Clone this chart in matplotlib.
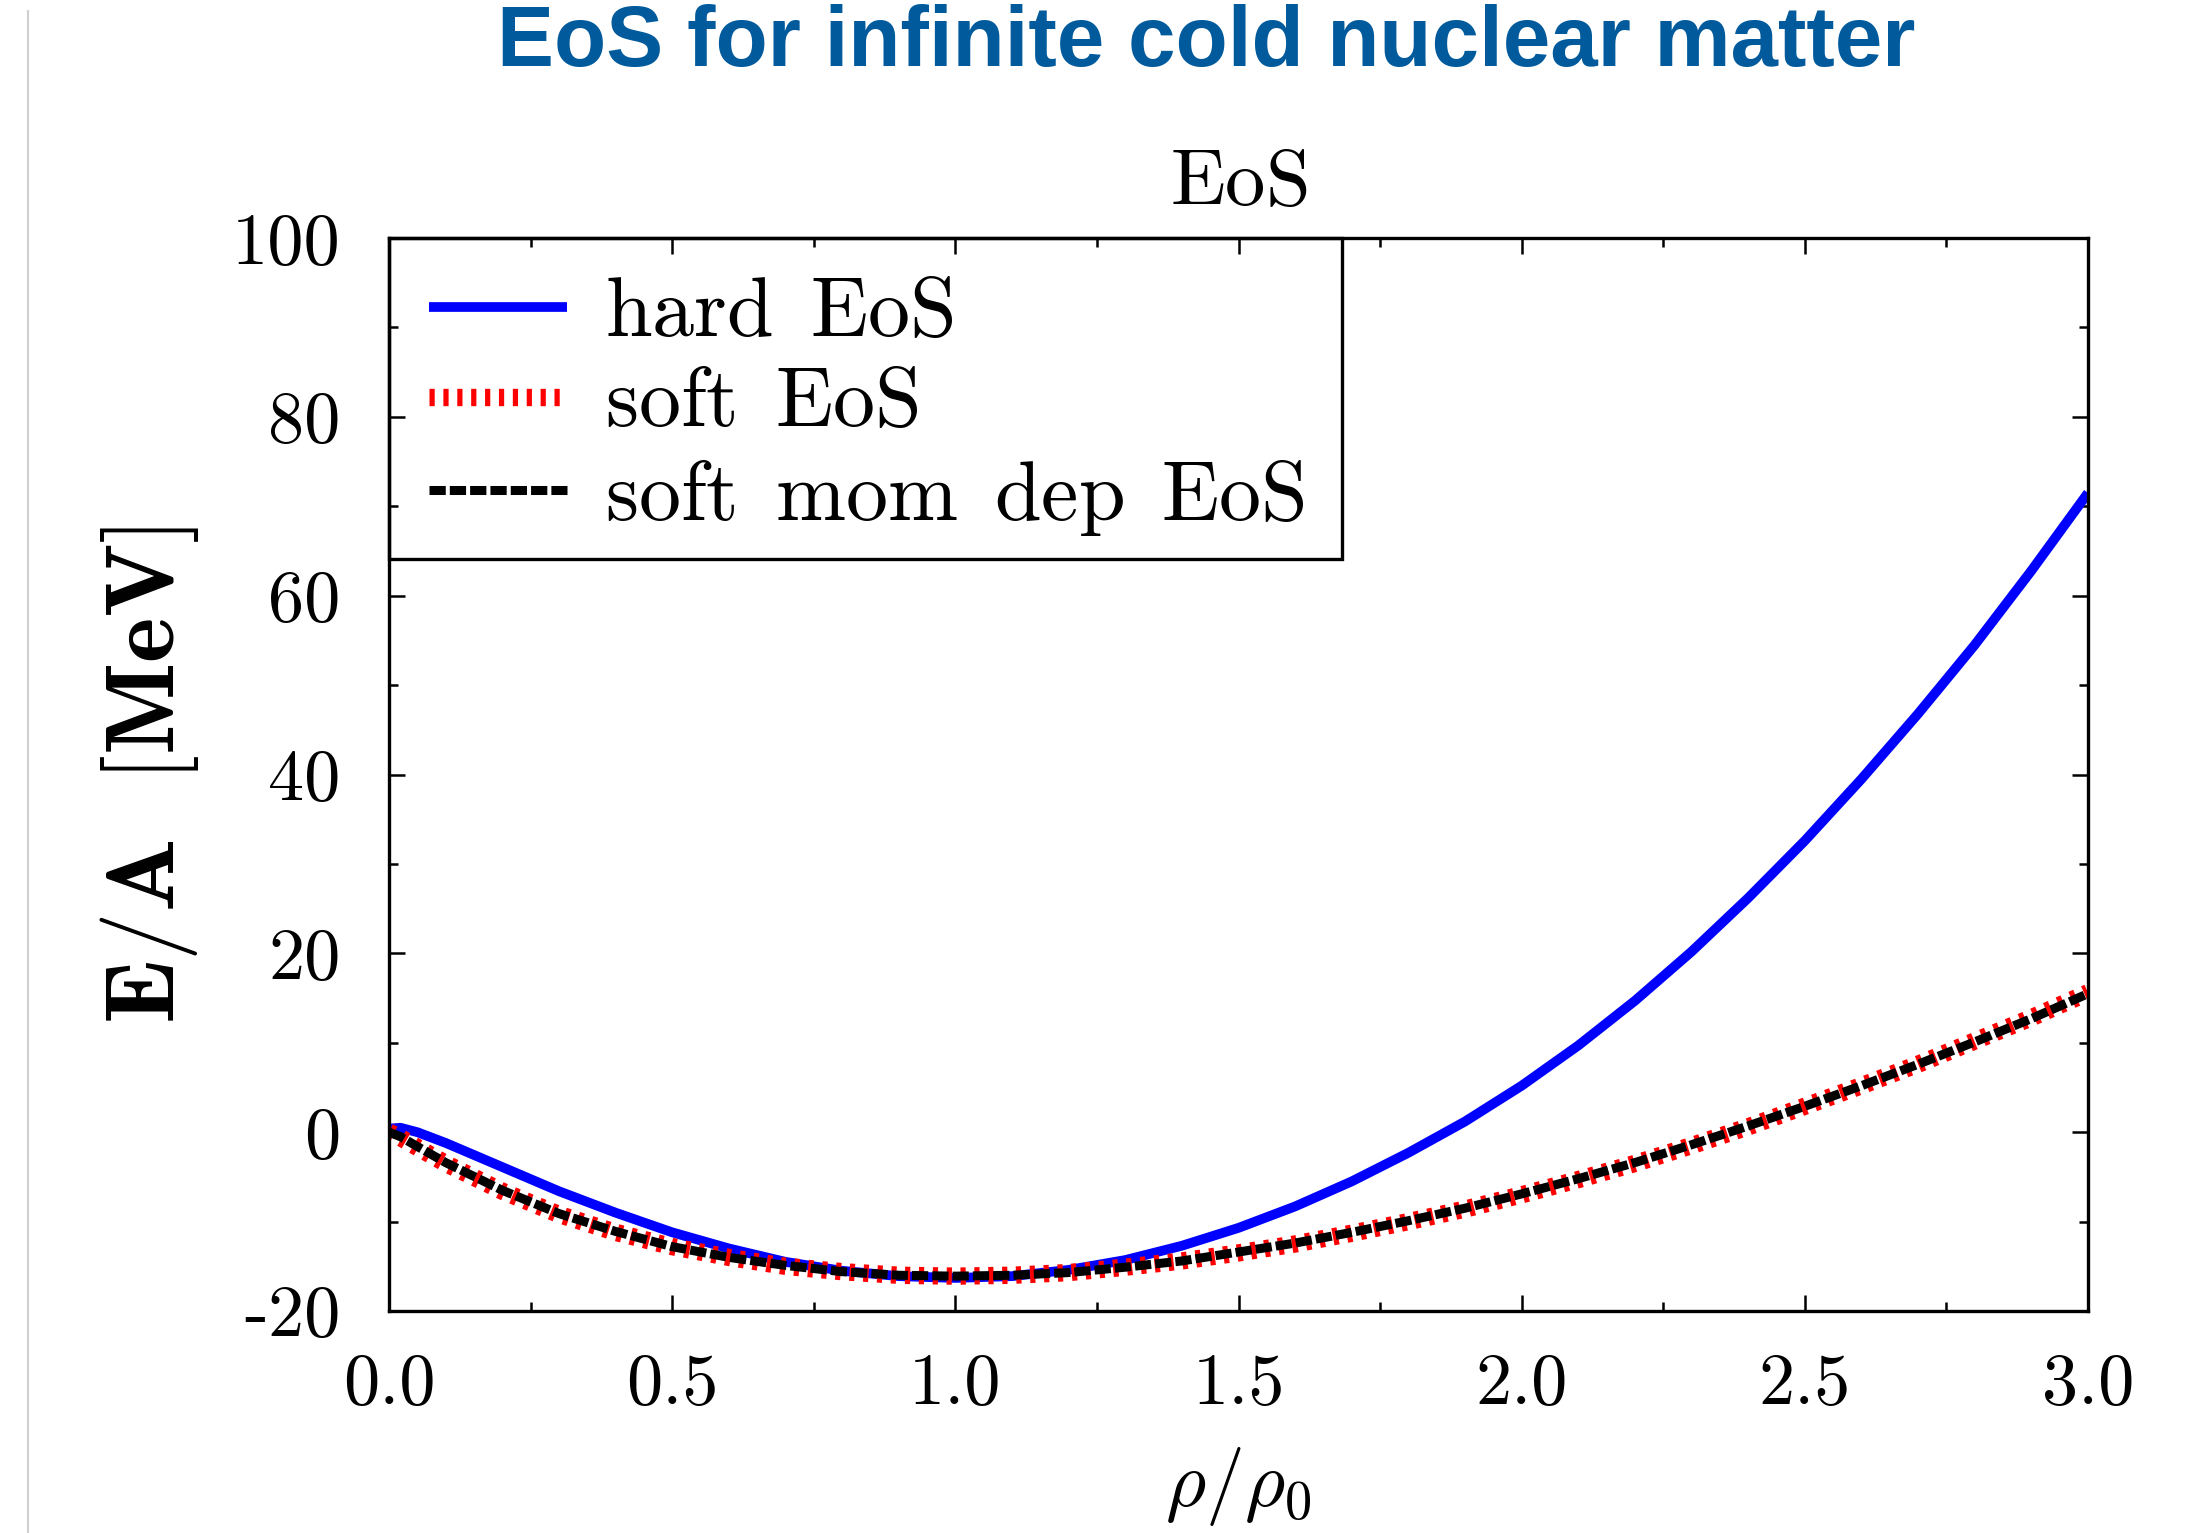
import matplotlib
matplotlib.use("Agg")
import matplotlib.pyplot as plt
from matplotlib.ticker import MultipleLocator, FixedLocator, FixedFormatter
from matplotlib.lines import Line2D
from matplotlib.patches import Rectangle

plt.rcParams['mathtext.fontset'] = 'cm'
plt.rcParams['font.family'] = ['cmr10']
plt.rcParams['axes.unicode_minus'] = False

# density rho/rho0
rho = [0.0, 0.02, 0.05, 0.1, 0.2, 0.3, 0.4, 0.5, 0.6, 0.7, 0.8, 0.9, 1.0,
       1.1, 1.2, 1.3, 1.4, 1.5, 1.6, 1.7, 1.8, 1.9, 2.0, 2.1, 2.2, 2.3,
       2.4, 2.5, 2.6, 2.7, 2.8, 2.9, 3.0]

# E/A in MeV
hard = [0.4, 0.5, 0.0, -1.2, -3.9, -6.6, -9.0, -11.2, -13.0, -14.5, -15.5,
        -16.1, -16.3, -16.1, -15.4, -14.3, -12.7, -10.7, -8.3, -5.5, -2.3,
        1.2, 5.2, 9.7, 14.7, 20.2, 26.2, 32.6, 39.5, 46.8, 54.5, 62.8, 71.5]
soft = [0.0, -0.6, -1.7, -3.5, -6.6, -9.2, -11.2, -12.8, -14.0, -15.0, -15.6,
        -16.0, -16.1, -16.0, -15.7, -15.1, -14.4, -13.5, -12.5, -11.3, -10.0,
        -8.6, -7.0, -5.3, -3.5, -1.5, 0.6, 2.9, 5.2, 7.6, 10.2, 12.8, 15.6]
soft_mom = [0.0, -0.5, -1.6, -3.4, -6.5, -9.1, -11.1, -12.8, -14.0, -14.9,
            -15.6, -16.0, -16.1, -16.0, -15.7, -15.1, -14.4, -13.4, -12.4,
            -11.2, -9.9, -8.5, -6.9, -5.2, -3.4, -1.4, 0.7, 2.9, 5.2, 7.6,
            10.1, 12.7, 15.5]

xticks = [0.0, 0.5, 1.0, 1.5, 2.0, 2.5, 3.0]
yticks = [-20, 0, 20, 40, 60, 80, 100]

fig = plt.figure(figsize=(22.03, 15.33), dpi=100)
ax = fig.add_axes([0.1766, 0.1448, 0.7712, 0.6999])

ax.plot(rho, hard, color='#0000ff', lw=7, solid_capstyle='butt',
        label=r'$\mathrm{hard\ \,EoS}$')
ax.plot(rho, soft, color='#ff0000', lw=12.5, linestyle=(0, (0.3, 0.5)),
        dash_capstyle='butt', label=r'$\mathrm{soft\ \,EoS}$')
ax.plot(rho, soft_mom, color='black', lw=6.5, linestyle=(0, (1.8, 0.45)),
        dash_capstyle='butt', label=r'$\mathrm{soft\ \,mom\ \,dep\ \,EoS}$')

ax.set_xlim(0, 3)
ax.set_ylim(-20, 100)
ax.xaxis.set_major_locator(FixedLocator(xticks))
ax.xaxis.set_major_formatter(FixedFormatter([f'{v:.1f}' for v in xticks]))
ax.yaxis.set_major_locator(FixedLocator(yticks))
ax.yaxis.set_major_formatter(FixedFormatter([f'{v}' for v in yticks]))
ax.xaxis.set_minor_locator(MultipleLocator(0.25))
ax.yaxis.set_minor_locator(MultipleLocator(10))

ax.tick_params(which='both', direction='in', top=True, right=True, width=1.8)
ax.tick_params(which='major', length=11.5, labelsize=52)
ax.tick_params(which='minor', length=6.5)
ax.tick_params(axis='y', pad=35)
ax.tick_params(axis='x', pad=30)
for s in ax.spines.values():
    s.set_linewidth(2.4)

ax.set_title(r'$\mathrm{EoS}$', fontsize=58, pad=24)
ax.set_xlabel(r'$\rho/\rho_0$', fontsize=56, labelpad=20)
ax.set_ylabel(r'$\mathbf{E/A\ \ [MeV]}$', fontsize=70, labelpad=22)

leg = ax.legend(loc='upper left', bbox_to_anchor=(0, 1), borderaxespad=0,
                frameon=False, fontsize=60.5, handlelength=1.65,
                handletextpad=0.45, borderpad=0.47, labelspacing=0.18)
# legend box drawn separately so it sits flush in the corner
ax.add_patch(Rectangle((0, 0.7012), 0.5608, 0.2988, transform=ax.transAxes,
                       fill=False, edgecolor='black', lw=2.4, zorder=6,
                       clip_on=False))

fig.text(0.5475, 0.971, 'EoS for infinite cold nuclear matter',
         fontsize=61.5, fontweight='bold', color='#005a9c',
         family='Liberation Sans', ha='center', va='center')

fig.add_artist(Line2D([0.0128, 0.0128], [0.0, 0.993], transform=fig.transFigure,
                      color='#d0d0d0', lw=1.5))

fig.savefig('out.png', dpi=100)
